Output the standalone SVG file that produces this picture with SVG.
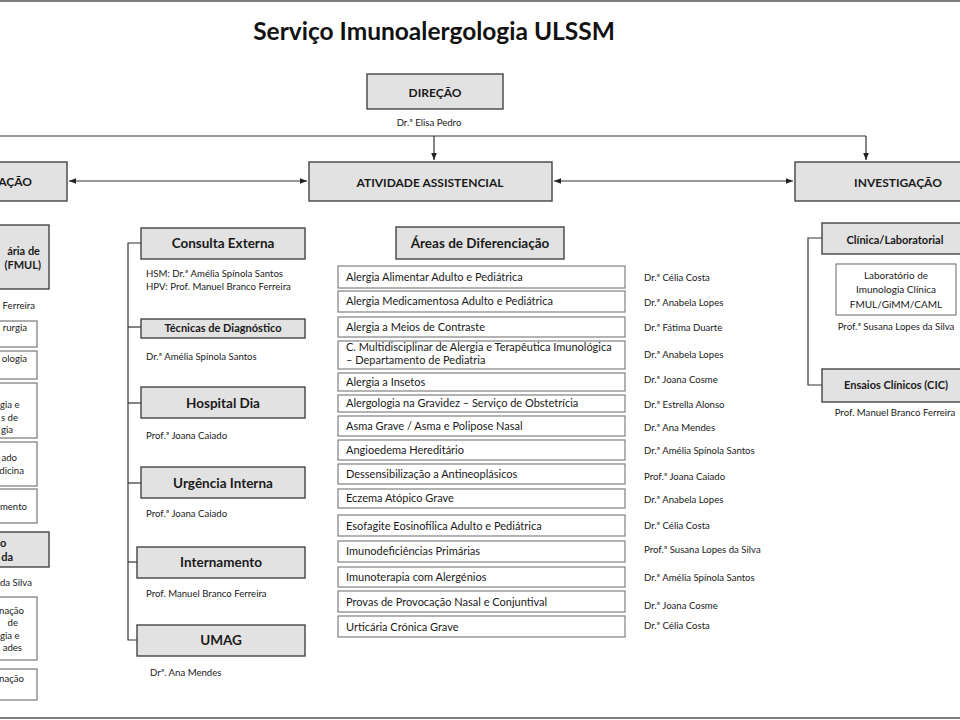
<svg xmlns="http://www.w3.org/2000/svg" width="960" height="720" viewBox="0 0 960 720">
<style>
text{font-family:Lato,"Open Sans","Liberation Sans",sans-serif;fill:#1a1a1a}
.title{font-size:24.5px;font-weight:bold;fill:#111}
.hb{fill:#e2e2e2;stroke:#444;stroke-width:1.4}
.wb{fill:#fff;stroke:#777;stroke-width:1.2}
.lb{fill:#fff;stroke:#808080;stroke-width:1.2}
.cap{font-size:12px;font-weight:bold}
.sub{font-size:13.5px;font-weight:bold}
.sm{font-size:11px;font-weight:bold}
.nm{font-size:9.6px}
.it{font-size:11px}
.lt{font-size:10px}
.c{text-anchor:middle}
.e{text-anchor:end}
.ln{fill:none;stroke:#333;stroke-width:1.2}
.frame{stroke:#555;stroke-width:1.5}
</style>
<defs>
<marker id="ah" viewBox="0 0 10 10" refX="10" refY="5" markerWidth="7" markerHeight="7" orient="auto-start-reverse" markerUnits="userSpaceOnUse"><path d="M0,1 L10,5 L0,9z" fill="#222"/></marker>
</defs>
<rect width="960" height="720" fill="#fff"/>
<line class="frame" x1="0" y1="1" x2="960" y2="1"/>
<line class="frame" x1="0" y1="718" x2="960" y2="718"/>

<text class="title" x="434" y="40" text-anchor="middle">Serviço Imunoalergologia ULSSM</text>

<g id="connectors">
<polyline class="ln" points="0,136 866,136"/>
<line class="ln" x1="434" y1="136" x2="434" y2="160" marker-end="url(#ah)"/>
<line class="ln" x1="866" y1="136" x2="866" y2="160" marker-end="url(#ah)"/>
<line class="ln" x1="69" y1="181" x2="307" y2="181" marker-start="url(#ah)" marker-end="url(#ah)"/>
<line class="ln" x1="554" y1="181" x2="793" y2="181" marker-start="url(#ah)" marker-end="url(#ah)"/>
<polyline class="ln" points="141,243 128,243 128,640 137,640"/>
<line class="ln" x1="128" y1="327" x2="141" y2="327"/>
<line class="ln" x1="128" y1="403" x2="141" y2="403"/>
<line class="ln" x1="128" y1="483" x2="141" y2="483"/>
<line class="ln" x1="128" y1="562" x2="137" y2="562"/>
<polyline class="ln" points="822,238 808,238 808,385 822,385"/>
</g>

<g id="direcao">
<rect class="hb" x="367" y="74" width="136" height="35"/>
<text class="cap c" x="435" y="97">DIREÇÃO</text>
<text class="nm c" x="429" y="126">Dr.ª Elisa Pedro</text>
</g>

<g id="formacao">
<rect class="hb" x="-20" y="162" width="87" height="39"/>
<text class="cap e" x="32" y="186">AÇÃO</text>
</g>

<g id="atividade">
<rect class="hb" x="309" y="162" width="243" height="39"/>
<text class="cap c" x="430" y="187">ATIVIDADE ASSISTENCIAL</text>
</g>

<g id="investigacao">
<rect class="hb" x="795" y="162" width="180" height="39"/>
<text class="cap c" x="898" y="187">INVESTIGAÇÃO</text>
</g>

<g id="left-fmul">
<rect class="hb" x="-20" y="225" width="69" height="64"/>
<text class="sm e" x="40" y="255">ária de</text>
<text class="sm e" x="41" y="269">(FMUL)</text>
<text class="nm e" x="35" y="309">Ferreira</text>
</g>
<g id="left-b1"><rect class="wb" x="-10" y="321" width="47" height="26"/><text class="nm e" x="27" y="331">rurgia</text></g>
<g id="left-b2"><rect class="wb" x="-10" y="351" width="47" height="28"/><text class="nm e" x="27" y="362">ologia</text></g>
<g id="left-b3"><rect class="wb" x="-10" y="383" width="47" height="55"/><text class="nm" x="0" y="408">gia e</text><text class="nm e" x="18" y="421">s de</text><text class="nm e" x="13" y="433">gia</text></g>
<g id="left-b4"><rect class="wb" x="-10" y="442" width="47" height="44"/><text class="nm e" x="17" y="461">ado</text><text class="nm e" x="24" y="474">dicina</text></g>
<g id="left-b5"><rect class="wb" x="-10" y="489" width="47" height="34"/><text class="nm e" x="27" y="510">mento</text></g>
<g id="left-avancada">
<rect class="hb" x="-20" y="532" width="69" height="35"/>
<text class="sm" x="0" y="547">o</text>
<text class="sm e" x="13" y="561">da</text>
<text class="nm" x="0" y="586">da Silva</text>
</g>
<g id="left-b6"><rect class="wb" x="-10" y="597" width="47" height="63"/><text class="nm e" x="24" y="614">nação</text><text class="nm e" x="18" y="626">de</text><text class="nm" x="0" y="639">gia e</text><text class="nm e" x="22" y="651">ades</text></g>
<g id="left-b7"><rect class="wb" x="-10" y="669" width="47" height="31"/><text class="nm e" x="24" y="682">nação</text></g>

<g id="consulta">
<rect class="hb" x="141" y="228" width="164" height="31"/>
<text class="sub c" x="223" y="248">Consulta Externa</text>
<text class="nm" x="146" y="277">HSM: Dr.ª Amélia Spínola Santos</text>
<text class="nm" x="146" y="290">HPV: Prof. Manuel Branco Ferreira</text>
</g>
<g id="tecnicas">
<rect class="hb" x="141" y="319" width="164" height="19"/>
<text class="sm c" x="223" y="332">Técnicas de Diagnóstico</text>
<text class="nm" x="146" y="360">Dr.ª Amélia Spínola Santos</text>
</g>
<g id="hospital-dia">
<rect class="hb" x="141" y="387" width="164" height="31"/>
<text class="sub c" x="223" y="408">Hospital Dia</text>
<text class="nm" x="146" y="439">Prof.ª Joana Caiado</text>
</g>
<g id="urgencia">
<rect class="hb" x="141" y="467" width="164" height="31"/>
<text class="sub c" x="223" y="488">Urgência Interna</text>
<text class="nm" x="146" y="517">Prof.ª Joana Caiado</text>
</g>
<g id="internamento">
<rect class="hb" x="137" y="547" width="168" height="31"/>
<text class="sub c" x="221" y="567">Internamento</text>
<text class="nm" x="146" y="597">Prof. Manuel Branco Ferreira</text>
</g>
<g id="umag">
<rect class="hb" x="137" y="625" width="168" height="31"/>
<text class="sub c" x="221" y="645">UMAG</text>
<text class="nm" x="150" y="676">Drª. Ana Mendes</text>
</g>

<g id="areas">
<rect class="hb" x="396" y="227" width="168" height="32"/>
<text class="sub c" x="480" y="248">Áreas de Diferenciação</text>
</g>
<g id="a1"><rect class="lb" x="338" y="266" width="287" height="22"/><text class="it" x="346" y="281">Alergia Alimentar Adulto e Pediátrica</text><text class="nm" x="644" y="281">Dr.ª Célia Costa</text></g>
<g id="a2"><rect class="lb" x="338" y="291" width="287" height="21"/><text class="it" x="346" y="305">Alergia Medicamentosa Adulto e Pediátrica</text><text class="nm" x="644" y="306">Dr.ª Anabela Lopes</text></g>
<g id="a3"><rect class="lb" x="338" y="317" width="287" height="20"/><text class="it" x="346" y="331">Alergia a Meios de Contraste</text><text class="nm" x="644" y="331">Dr.ª Fátima Duarte</text></g>
<g id="a4"><rect class="lb" x="338" y="341" width="287" height="28"/><text class="it" x="346" y="351">C. Multidisciplinar de Alergia e Terapêutica Imunológica</text><text class="it" x="346" y="364">– Departamento de Pediatria</text><text class="nm" x="644" y="358">Dr.ª Anabela Lopes</text></g>
<g id="a5"><rect class="lb" x="338" y="373" width="287" height="18"/><text class="it" x="346" y="386">Alergia a Insetos</text><text class="nm" x="644" y="383">Dr.ª Joana Cosme</text></g>
<g id="a6"><rect class="lb" x="338" y="395" width="287" height="17"/><text class="it" x="346" y="407">Alergologia na Gravidez – Serviço de Obstetrícia</text><text class="nm" x="644" y="408">Dr.ª Estrella Alonso</text></g>
<g id="a7"><rect class="lb" x="338" y="416" width="287" height="20"/><text class="it" x="346" y="430">Asma Grave / Asma e Polipose Nasal</text><text class="nm" x="644" y="431">Dr.ª Ana Mendes</text></g>
<g id="a8"><rect class="lb" x="338" y="440" width="287" height="20"/><text class="it" x="346" y="454">Angioedema Hereditário</text><text class="nm" x="644" y="454">Dr.ª Amélia Spínola Santos</text></g>
<g id="a9"><rect class="lb" x="338" y="464" width="287" height="20"/><text class="it" x="346" y="478">Dessensibilização a Antineoplásicos</text><text class="nm" x="644" y="480">Prof.ª Joana Caiado</text></g>
<g id="a10"><rect class="lb" x="338" y="489" width="287" height="19"/><text class="it" x="346" y="502">Eczema Atópico Grave</text><text class="nm" x="644" y="503">Dr.ª Anabela Lopes</text></g>
<g id="a11"><rect class="lb" x="338" y="515" width="287" height="21"/><text class="it" x="346" y="530">Esofagite Eosinofílica Adulto e Pediátrica</text><text class="nm" x="644" y="529">Dr.ª Célia Costa</text></g>
<g id="a12"><rect class="lb" x="338" y="541" width="287" height="21"/><text class="it" x="346" y="555">Imunodeficiências Primárias</text><text class="nm" x="644" y="553">Prof.ª Susana Lopes da Silva</text></g>
<g id="a13"><rect class="lb" x="338" y="567" width="287" height="20"/><text class="it" x="346" y="581">Imunoterapia com Alergénios</text><text class="nm" x="644" y="581">Dr.ª Amélia Spínola Santos</text></g>
<g id="a14"><rect class="lb" x="338" y="591" width="287" height="21"/><text class="it" x="346" y="606">Provas de Provocação Nasal e Conjuntival</text><text class="nm" x="644" y="609">Dr.ª Joana Cosme</text></g>
<g id="a15"><rect class="lb" x="338" y="616" width="287" height="21"/><text class="it" x="346" y="631">Urticária Crónica Grave</text><text class="nm" x="644" y="629">Dr.ª Célia Costa</text></g>

<g id="clinica">
<rect class="hb" x="822" y="223" width="150" height="31"/>
<text class="sm c" x="895" y="244">Clínica/Laboratorial</text>
</g>
<g id="laboratorio">
<rect class="lb" x="836" y="264" width="120" height="51"/>
<text class="lt c" x="896" y="279">Laboratório de</text>
<text class="lt c" x="896" y="293">Imunologia Clínica</text>
<text class="lt c" x="896" y="308">FMUL/GiMM/CAML</text>
<text class="nm c" x="896" y="330">Prof.ª Susana Lopes da Silva</text>
</g>
<g id="ensaios">
<rect class="hb" x="822" y="369" width="150" height="33"/>
<text class="sm c" x="896" y="389">Ensaios Clínicos (CIC)</text>
<text class="nm c" x="895" y="416">Prof. Manuel Branco Ferreira</text>
</g>
</svg>
